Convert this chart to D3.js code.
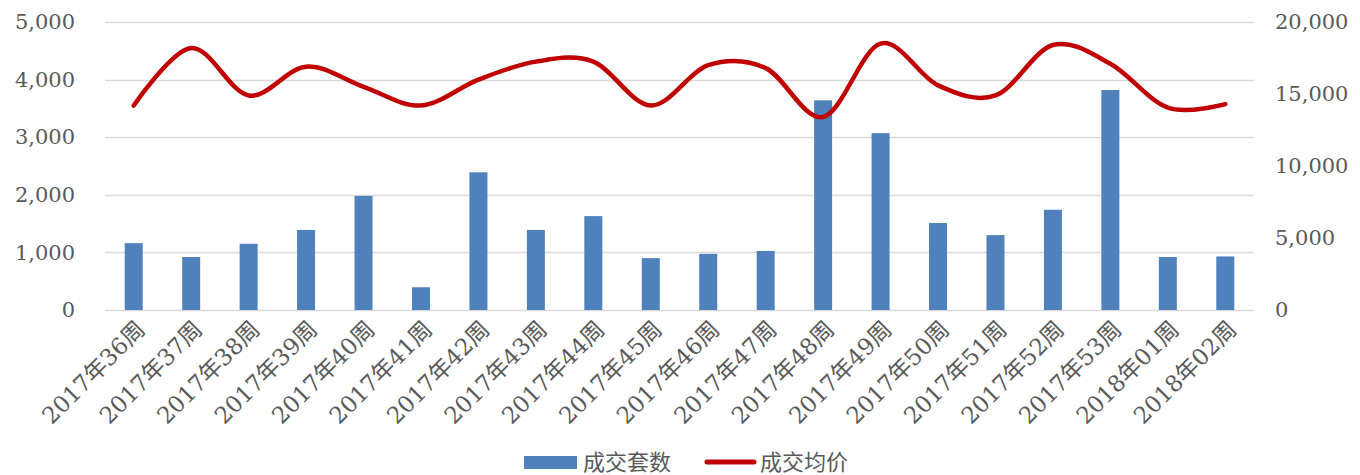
<!DOCTYPE html>
<html>
<head>
<meta charset="utf-8">
<script src="https://cdn.jsdelivr.net/npm/d3@7"></script>
<style>
	body { margin: 0; background: #fff; }
	svg text { fill: #595959; }
</style>
</head>
<body>
<svg id="chart" width="1360" height="475"></svg>
<script>
// categories (week labels)
var weeks = ["2017年36周","2017年37周","2017年38周","2017年39周","2017年40周","2017年41周","2017年42周",
	"2017年43周","2017年44周","2017年45周","2017年46周","2017年47周","2017年48周","2017年49周",
	"2017年50周","2017年51周","2017年52周","2017年53周","2018年01周","2018年02周"];
// 成交套数 (left axis)
var deals = [1160, 920, 1150, 1390, 1980, 395, 2390, 1390, 1630, 900,
	975, 1025, 3640, 3070, 1510, 1300, 1740, 3820, 920, 930];
// 成交均价 (right axis)
var prices = [14200, 18200, 14900, 16900, 15500, 14200, 16000, 17250, 17250, 14200,
	17000, 16800, 13400, 18500, 15600, 14900, 18400, 17100, 14050, 14300];
var leftTicks = [0, 1000, 2000, 3000, 4000, 5000];
var rightTicks = [0, 5000, 10000, 15000, 20000];

var svg = d3.select("#chart");
var plot = {left: 105, right: 1254, top: 22, bottom: 310};
var fmt = d3.format(",");

var x = d3.scaleBand()
	.domain(weeks)
	.range([plot.left, plot.right]);
var yL = d3.scaleLinear().domain([0, 5000]).range([plot.bottom, plot.top]);
var yR = d3.scaleLinear().domain([0, 20000]).range([plot.bottom, plot.top]);

// gridlines
svg.append("g").selectAll("line")
	.data(leftTicks).enter()
	.append("line")
		.attr("x1", plot.left)
		.attr("x2", plot.right)
		.attr("y1", function(d) { return Math.round(yL(d)) + 0.5; })
		.attr("y2", function(d) { return Math.round(yL(d)) + 0.5; })
		.attr("stroke", "#d9d9d9")
		.attr("stroke-width", 1.5);

// left axis labels
var leftAxis = svg.append("g")
	.attr("transform", "translate(" + (plot.left - 30) + ",0)")
	.call(d3.axisLeft(yL).tickValues(leftTicks).tickFormat(fmt).tickSize(0).tickPadding(0));
leftAxis.select(".domain").remove();
leftAxis.selectAll("text")
	.style("font-family", "'DejaVu Serif', serif")
	.style("font-size", "21px")
	.attr("fill", "#595959");

// right axis labels
var rightAxis = svg.append("g")
	.attr("transform", "translate(" + (plot.right + 21) + ",0)")
	.call(d3.axisRight(yR).tickValues(rightTicks).tickFormat(fmt).tickSize(0).tickPadding(0));
rightAxis.select(".domain").remove();
rightAxis.selectAll("text")
	.style("font-family", "'DejaVu Serif', serif")
	.style("font-size", "21px")
	.attr("fill", "#595959");

// bars
var barW = 18;
svg.append("g").selectAll("rect")
	.data(deals).enter()
	.append("rect")
		.attr("x", function(d, i) { return x(weeks[i]) + x.bandwidth() / 2 - barW / 2; })
		.attr("y", function(d) { return yL(d); })
		.attr("width", barW)
		.attr("height", function(d) { return plot.bottom - yL(d); })
		.attr("fill", "#4f81bd");

// smoothed price line
var line = d3.line()
	.x(function(d, i) { return x(weeks[i]) + x.bandwidth() / 2; })
	.y(function(d) { return yR(d); })
	.curve(d3.curveCardinal.tension(0));
svg.append("path")
	.datum(prices)
	.attr("d", line)
	.attr("fill", "none")
	.attr("stroke", "#c00000")
	.attr("stroke-width", 4.5)
	.attr("stroke-linecap", "round")
	.attr("stroke-linejoin", "round");

// category labels, rotated
svg.append("g").selectAll("text")
	.data(weeks).enter()
	.append("text")
		.attr("transform", function(d) {
			var cx = x(d) + x.bandwidth() / 2 + 7;
			return "translate(" + cx + "," + (plot.bottom + 15) + ") rotate(-45)";
		})
		.attr("text-anchor", "end")
		.attr("dy", "0.35em")
		.style("font-family", "'DejaVu Serif', 'Noto Sans CJK SC', serif")
		.style("font-size", "23px")
		.text(function(d) { return d; });

// legend
var legend = svg.append("g").style("font-family", "'Noto Sans CJK SC', sans-serif").style("font-size", "22px");
legend.append("rect")
	.attr("x", 524).attr("y", 456)
	.attr("width", 53).attr("height", 13)
	.attr("fill", "#4f81bd");
legend.append("text")
	.attr("x", 583).attr("y", 462).attr("dy", "0.35em")
	.text("成交套数");
legend.append("line")
	.attr("x1", 707).attr("x2", 754)
	.attr("y1", 462).attr("y2", 462)
	.attr("stroke", "#c00000")
	.attr("stroke-width", 5)
	.attr("stroke-linecap", "round");
legend.append("text")
	.attr("x", 760).attr("y", 462).attr("dy", "0.35em")
	.text("成交均价");
</script>
</body>
</html>
